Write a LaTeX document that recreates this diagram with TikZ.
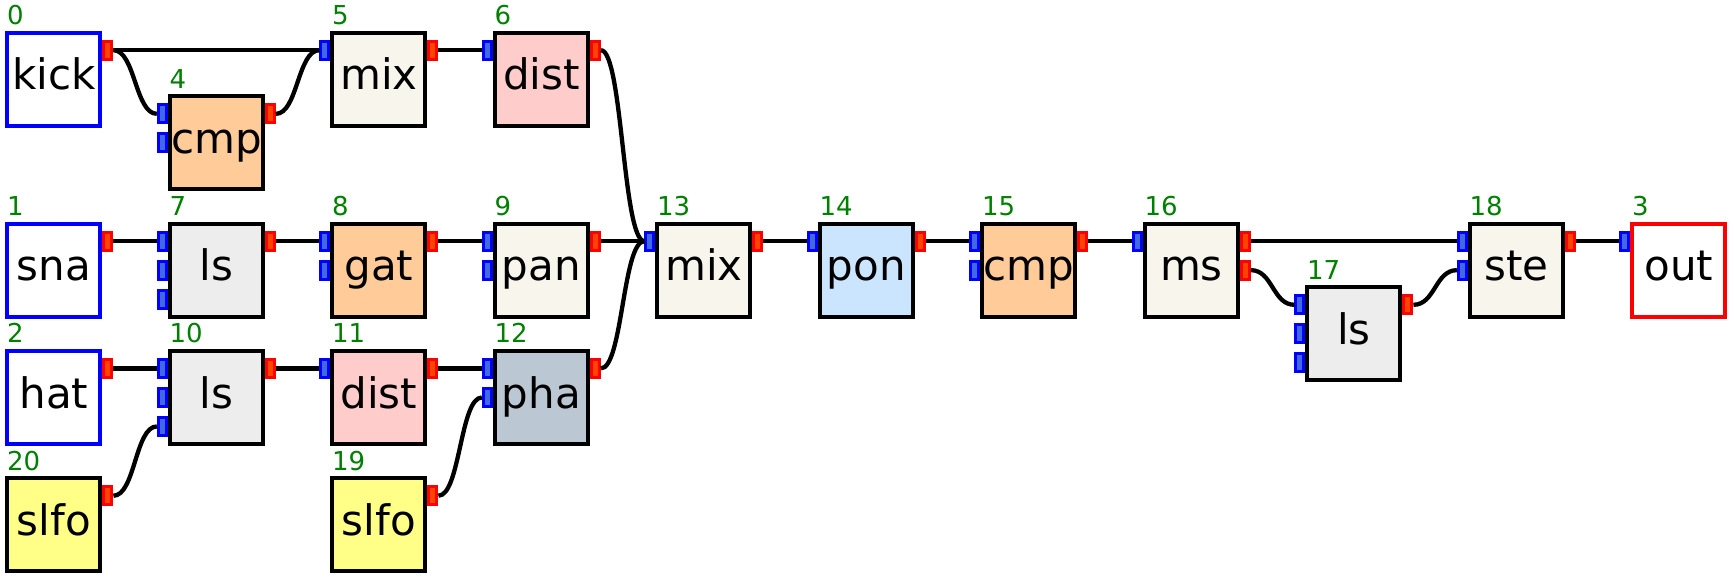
\documentclass[tikz,border=0pt]{standalone}
\usepackage{fontspec}
\setmainfont{DejaVu Sans}
\usetikzlibrary{calc}

\definecolor{portin}{RGB}{65,105,225}
\definecolor{portout}{RGB}{255,69,0}
\definecolor{peach}{RGB}{255,204,153}
\definecolor{cream}{RGB}{248,245,237}
\definecolor{rose}{RGB}{255,204,204}
\definecolor{lightgrey}{RGB}{237,237,237}
\definecolor{skyblue}{RGB}{204,229,255}
\definecolor{slate}{RGB}{187,200,211}
\definecolor{lemon}{RGB}{255,255,136}
\definecolor{lblgreen}{RGB}{0,128,0}

\tikzset{
  block/.style={draw, line width=4pt, minimum width=93pt, minimum height=93pt,
    inner sep=0pt, text height=31.6pt, text depth=10pt, font=\fontsize{42pt}{48pt}\selectfont},
  numlbl/.style={anchor=base west, inner sep=0pt, text=lblgreen, font=\fontsize{26pt}{30pt}\selectfont},
  inport/.style={draw=blue, fill=portin, line width=3pt, minimum width=8pt,
    minimum height=18pt, inner sep=0pt},
  outport/.style={draw=red, fill=portout, line width=3pt, minimum width=8pt,
    minimum height=18pt, inner sep=0pt},
  wire/.style={line width=4.3pt, to path={let \p1=(\tikztostart), \p2=(\tikztotarget),
    \n1={(\x2-\x1)/2} in .. controls +(\n1,0pt) and +(-\n1,0pt) .. (\tikztotarget)}},
}

\begin{document}
\begin{tikzpicture}[x=1pt,y=-1pt]
  \useasboundingbox (0,0) rectangle (1735,577);
  % blocks: id/column/row/text/fill/border/inputs/outputs
  \foreach \id/\cx/\ry/\t/\f/\d/\ni/\no in {
      0/0/0/kick/white/blue/0/1, 1/0/1.5/sna/white/blue/0/1,
      2/0/2.5/hat/white/blue/0/1, 20/0/3.5/slfo/lemon/black/0/1,
      4/1/0.5/cmp/peach/black/2/1, 7/1/1.5/ls/lightgrey/black/3/1,
      10/1/2.5/ls/lightgrey/black/3/1,
      5/2/0/mix/cream/black/1/1, 8/2/1.5/gat/peach/black/2/1,
      11/2/2.5/dist/rose/black/1/1, 19/2/3.5/slfo/lemon/black/0/1,
      6/3/0/dist/rose/black/1/1, 9/3/1.5/pan/cream/black/2/1,
      12/3/2.5/pha/slate/black/2/1,
      13/4/1.5/mix/cream/black/1/1, 14/5/1.5/pon/skyblue/black/1/1,
      15/6/1.5/cmp/peach/black/2/1, 16/7/1.5/ms/cream/black/1/2,
      17/8/2/ls/lightgrey/black/3/1, 18/9/1.5/ste/cream/black/2/1,
      3/10/1.5/out/white/red/1/0}
  {
    \node[block, fill=\f, draw=\d] (b\id) at ({53.9+162.5*\cx},{79.2+127.3*\ry}) {\t};
    \node[numlbl] (l\id) at ([shift={(1.5,-6)}]b\id.north west) {\id};
    \ifnum\ni>0
      \foreach \k in {1,...,\ni}
        \node[inport] (b\id-i\k) at ([shift={(-54,{29*(\k-2)})}]b\id.center) {};
    \fi
    \ifnum\no>0
      \foreach \k in {1,...,\no}
        \node[outport] (b\id-o\k) at ([shift={(54,{29*(\k-2)})}]b\id.center) {};
    \fi
  }
  % connections
  \foreach \a/\b in {b0-o1/b5-i1, b0-o1/b4-i1, b4-o1/b5-i1, b5-o1/b6-i1,
      b6-o1/b13-i1, b1-o1/b7-i1, b7-o1/b8-i1, b8-o1/b9-i1, b9-o1/b13-i1,
      b2-o1/b10-i1, b10-o1/b11-i1, b11-o1/b12-i1, b20-o1/b10-i3,
      b19-o1/b12-i2, b12-o1/b13-i1, b13-o1/b14-i1, b14-o1/b15-i1,
      b15-o1/b16-i1, b16-o1/b18-i1, b16-o2/b17-i1, b17-o1/b18-i2,
      b18-o1/b3-i1}
    \draw[wire] (\a.east) to (\b.west);
\end{tikzpicture}
\end{document}
